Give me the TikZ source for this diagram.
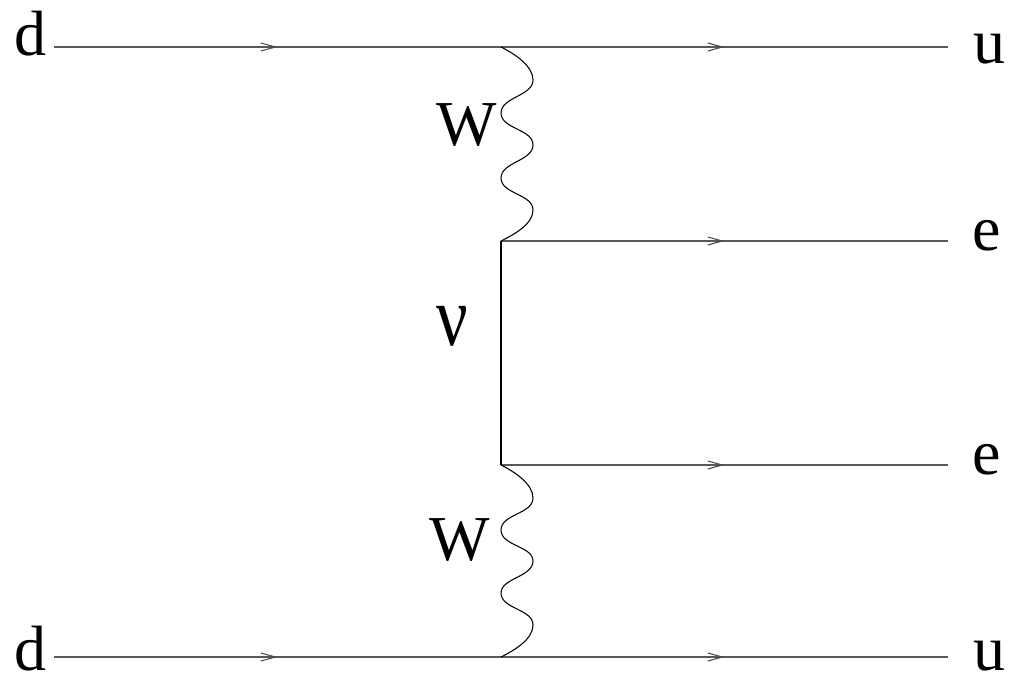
\documentclass[tikz,border=0pt]{standalone}
\usepackage{fontspec}
\setmainfont{Liberation Serif}
\usetikzlibrary{arrows.meta,decorations.markings}
\tikzset{
  lbl/.style={font=\fontsize{48}{52}\selectfont, anchor=base, inner sep=0pt},
  nulbl/.style={font=\fontsize{64}{68}\selectfont, anchor=base, inner sep=0pt, xscale=0.82},
  fermion/.style={draw=black!65, line width=1.1pt,
    postaction={decorate},
    decoration={markings, mark=at position 0.5 with {\arrow[black!70, line width=0.8pt]{Straight Barb[length=11pt,width=6pt]}}}},
  boson/.style={draw=black, line width=0.8pt},
  prop/.style={draw=black, line width=0.8pt}
}
\begin{document}
\begin{tikzpicture}[x=0.75pt, y=-0.75pt]
\useasboundingbox (0,0) rectangle (1012,682);
% vertices
\coordinate (v1) at (501,47);
\coordinate (v2) at (501,241);
\coordinate (v3) at (501,465);
\coordinate (v4) at (501,657);
% external ends
\coordinate (inA) at (54,47);
\coordinate (outA) at (948,47);
\coordinate (outB) at (948,241);
\coordinate (outC) at (948,465);
\coordinate (inD) at (54,657);
\coordinate (outD) at (948,657);
% labels
\node[lbl] (dA) at (30,55) {d};
\node[lbl] (uA) at (989,63) {u};
\node[lbl] (eB) at (987,250) {e};
\node[lbl] (eC) at (987,474) {e};
\node[lbl] (dD) at (30,670) {d};
\node[lbl] (uD) at (989,670) {u};
\node[lbl] (W1) at (467,145) {W};
\node[lbl] (W2) at (460,560) {W};
\node[nulbl] (nu) at (452,345) {ν};
% fermion lines
\path[fermion] (inA) -- (v1);
\path[fermion] (v1) -- (outA);
\path[fermion] (v2) -- (outB);
\path[fermion] (v3) -- (outC);
\path[fermion] (inD) -- (v4);
\path[fermion] (v4) -- (outD);
% neutrino
\path[prop] (v2) -- (v3);
% W bosons
\begin{scope}[shift={(v1)}]
\path[boson] (0,0) .. controls (14,7) and (32,19) .. (32,33)
  .. controls (32,49) and (0,50) .. (0,66)
  .. controls (0,82) and (32,82) .. (32,98)
  .. controls (32,114) and (0,115) .. (0,131)
  .. controls (0,147) and (32,147) .. (32,163)
  .. controls (32,177) and (14,187) .. (v2);
\end{scope}
\begin{scope}[shift={(v3)}]
\path[boson] (0,0) .. controls (14,7) and (32,19) .. (32,33)
  .. controls (32,49) and (0,49) .. (0,65)
  .. controls (0,81) and (32,81) .. (32,96)
  .. controls (32,112) and (0,113) .. (0,128)
  .. controls (0,144) and (32,144) .. (32,160)
  .. controls (32,174) and (14,185) .. (v4);
\end{scope}
\end{tikzpicture}
\end{document}
